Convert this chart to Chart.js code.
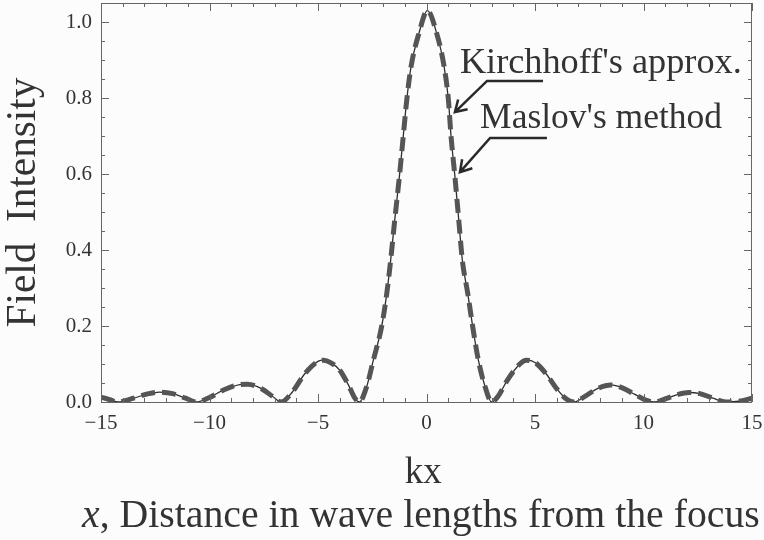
<!DOCTYPE html>
<html>
<head>
<meta charset="utf-8">
<script src="https://cdn.jsdelivr.net/npm/chart.js@4.4.1/dist/chart.umd.min.js"></script>
<style>
  html, body { margin: 0; padding: 0; background: #fcfcfc; }
  #wrap { width: 764px; height: 540px; }
</style>
</head>
<body>
<div id="wrap"><canvas id="chart" width="764" height="540"></canvas></div>
<script>
const kx = [
  -15, -14.6, -14.2, -13.5, -12.8, -12.3, -11.7, -11.1, -10.6, -10.0,
  -9.3, -8.6, -8.25, -7.6, -7.1, -6.7, -6.2, -5.6, -5.0, -4.75,
  -4.4, -4.0, -3.6, -3.3, -3.1, -2.76, -2.45, -2.07, -1.83, -1.65,
  -1.48, -1.25, -1.07, -0.91, -0.71, -0.35, 0.04, 0.47, 0.81, 1.01,
  1.13, 1.31, 1.50, 1.65, 1.90, 2.13, 2.39, 2.70, 3.0, 3.3,
  3.7, 4.3, 4.6, 5.0, 5.5, 6.0, 6.4, 6.8, 7.3, 7.9,
  8.5, 9.0, 9.6, 10.1, 10.5, 11.0, 11.6, 12.1, 12.6, 13.2,
  13.8, 14.4, 15
];
const kirchhoff = [
  0.013, 0.006, 0.0, 0.01, 0.022, 0.026, 0.022, 0.01, 0.0, 0.012,
  0.033, 0.046, 0.047, 0.035, 0.015, 0.0, 0.025, 0.075, 0.107, 0.11,
  0.103, 0.084, 0.045, 0.01, 0.0, 0.04, 0.11, 0.198, 0.286, 0.374,
  0.47, 0.593, 0.70, 0.795, 0.883, 0.97, 1.03, 0.97, 0.883, 0.795,
  0.70, 0.593, 0.47, 0.374, 0.286, 0.198, 0.11, 0.04, 0.0, 0.015,
  0.055, 0.10, 0.11, 0.104, 0.075, 0.035, 0.01, 0.0, 0.015, 0.036,
  0.045, 0.038, 0.02, 0.005, 0.0, 0.008, 0.02, 0.025, 0.022, 0.01,
  0.0, 0.002, 0.01
];
// the two curves lie on top of each other in the picture
const maslov = kirchhoff.slice();

const xTickLabels = [-15, -10, -5, 0, 5, 10, 15];
const yTickLabels = [0, 0.2, 0.4, 0.6, 0.8, 1.0];

const serif = '"Liberation Serif", "DejaVu Serif", serif';
const ink = '#333';

// arrows + labels, given in data coords (kx, intensity)
const notes = [
  { text: "Kirchhoff's approx.", at: [1.54, 0.866], width: 282,
    tip: [1.31, 0.763], elbow: [2.79, 0.845], end: [5.37, 0.845] },
  { text: "Maslov's method", at: [2.47, 0.721], width: 242,
    tip: [1.54, 0.605], elbow: [2.93, 0.695], end: [5.55, 0.695] }
];

const toPoints = (ys) => kx.map((x, i) => ({ x: x, y: ys[i] }));

const fitFont = (ctx, text, width, style) => {
  ctx.font = style + '40px ' + serif;
  return 40 * width / ctx.measureText(text).width;
};

const framePlugin = {
  id: 'frame',
  beforeDraw(chart) {
    const ctx = chart.ctx;
    ctx.save();
    ctx.fillStyle = '#fcfcfc';
    ctx.fillRect(0, 0, chart.width, chart.height);
    ctx.restore();
  },
  afterDraw(chart) {
    const ctx = chart.ctx;
    const a = chart.chartArea;
    const xs = chart.scales.x, ys = chart.scales.y;
    ctx.save();

    // frame and inward ticks, mathematica style
    ctx.strokeStyle = '#666';
    ctx.lineWidth = 1;
    ctx.strokeRect(a.left + 0.5, a.top + 0.5, a.right - a.left - 1, a.bottom - a.top);
    ctx.beginPath();
    for (let v = -15; v <= 15; v++) {
      const px = Math.round(xs.getPixelForValue(v)) + 0.5;
      const len = v % 5 === 0 ? 8 : 4;
      ctx.moveTo(px, a.bottom); ctx.lineTo(px, a.bottom - len);
      ctx.moveTo(px, a.top); ctx.lineTo(px, a.top + len);
    }
    for (let i = 0; i <= 21; i++) {
      const v = i * 0.05;
      const py = Math.round(ys.getPixelForValue(v)) + 0.5;
      const len = i % 4 === 0 ? 8 : 4;
      ctx.moveTo(a.left, py); ctx.lineTo(a.left + len, py);
      ctx.moveTo(a.right, py); ctx.lineTo(a.right - len, py);
    }
    ctx.stroke();

    // arrows
    ctx.strokeStyle = '#2a2a2a';
    ctx.lineWidth = 2.5;
    notes.forEach(n => {
      const p = (q) => [xs.getPixelForValue(q[0]), ys.getPixelForValue(q[1])];
      const tip = p(n.tip), elb = p(n.elbow), end = p(n.end);
      ctx.beginPath();
      ctx.moveTo(end[0], end[1]); ctx.lineTo(elb[0], elb[1]); ctx.lineTo(tip[0], tip[1]);
      const ang = Math.atan2(elb[1] - tip[1], elb[0] - tip[0]);
      const h = 13, spread = 0.55;
      ctx.moveTo(tip[0] + h * Math.cos(ang - spread), tip[1] + h * Math.sin(ang - spread));
      ctx.lineTo(tip[0], tip[1]);
      ctx.lineTo(tip[0] + h * Math.cos(ang + spread), tip[1] + h * Math.sin(ang + spread));
      ctx.stroke();

      const size = fitFont(ctx, n.text, n.width, '');
      ctx.font = size + 'px ' + serif;
      ctx.fillStyle = ink;
      ctx.textAlign = 'left';
      ctx.textBaseline = 'alphabetic';
      ctx.fillText(n.text, xs.getPixelForValue(n.at[0]), ys.getPixelForValue(n.at[1]));
    });

    // axis titles
    ctx.fillStyle = ink;
    ctx.save();
    ctx.translate(24, (a.top + a.bottom) / 2);
    ctx.rotate(-Math.PI / 2);
    const ySize = fitFont(ctx, 'Field  Intensity', 250, '');
    ctx.font = ySize + 'px ' + serif;
    ctx.textAlign = 'center';
    ctx.textBaseline = 'middle';
    ctx.fillText('Field  Intensity', 0, 0);
    ctx.restore();

    ctx.font = '37px ' + serif;
    ctx.textAlign = 'center';
    ctx.textBaseline = 'alphabetic';
    ctx.fillText('kx', xs.getPixelForValue(-0.15), 483);

    const rest = ', Distance in wave lengths from the focus';
    ctx.font = 'italic 40px ' + serif;
    const w1 = ctx.measureText('x').width;
    ctx.font = '40px ' + serif;
    const w2 = ctx.measureText(rest).width;
    const s = 40 * 678 / (w1 + w2);
    ctx.textAlign = 'left';
    ctx.font = 'italic ' + s + 'px ' + serif;
    ctx.fillText('x', 82, 527);
    ctx.font = s + 'px ' + serif;
    ctx.fillText(rest, 82 + w1 * s / 40, 527);

    ctx.restore();
  }
};

const ctx = document.getElementById('chart').getContext('2d');
new Chart(ctx, {
  type: 'line',
  data: {
    datasets: [
      {
        label: "Maslov's method",
        data: toPoints(maslov),
        borderColor: '#555',
        borderWidth: 5,
        borderDash: [14, 7],
        borderCapStyle: 'butt',
        pointRadius: 0,
        cubicInterpolationMode: 'monotone'
      },
      {
        label: "Kirchhoff's approx.",
        data: toPoints(kirchhoff),
        borderColor: '#2e2e2e',
        borderWidth: 1.3,
        pointRadius: 0,
        cubicInterpolationMode: 'monotone'
      }
    ]
  },
  options: {
    responsive: false,
    animation: false,
    layout: { padding: { top: 3, right: 12, left: 0, bottom: 0 } },
    plugins: { legend: { display: false }, tooltip: { enabled: false } },
    scales: {
      x: {
        type: 'linear',
        min: -15,
        max: 15,
        grid: { display: false, drawTicks: false },
        border: { display: false },
        afterBuildTicks: (scale) => { scale.ticks = xTickLabels.map(v => ({ value: v })); },
        afterFit: (scale) => {
          scale.height = 138;
          scale.paddingLeft = 0;
          scale.paddingRight = 0;
        },
        ticks: {
          maxRotation: 0,
          autoSkip: false,
          padding: 9,
          color: ink,
          font: { family: serif, size: 21 },
          callback: (v) => (v < 0 ? '\u2212' + Math.abs(v) : String(v))
        }
      },
      y: {
        min: 0,
        max: 1.05,
        grid: { display: false, drawTicks: false },
        border: { display: false },
        afterBuildTicks: (scale) => { scale.ticks = yTickLabels.map(v => ({ value: v })); },
        afterFit: (scale) => {
          scale.width = 101;
          scale.paddingTop = 0;
          scale.paddingBottom = 0;
        },
        ticks: {
          padding: 9,
          color: ink,
          font: { family: serif, size: 21 },
          callback: (v) => Number(v).toFixed(1)
        }
      }
    }
  },
  plugins: [framePlugin]
});
</script>
</body>
</html>
